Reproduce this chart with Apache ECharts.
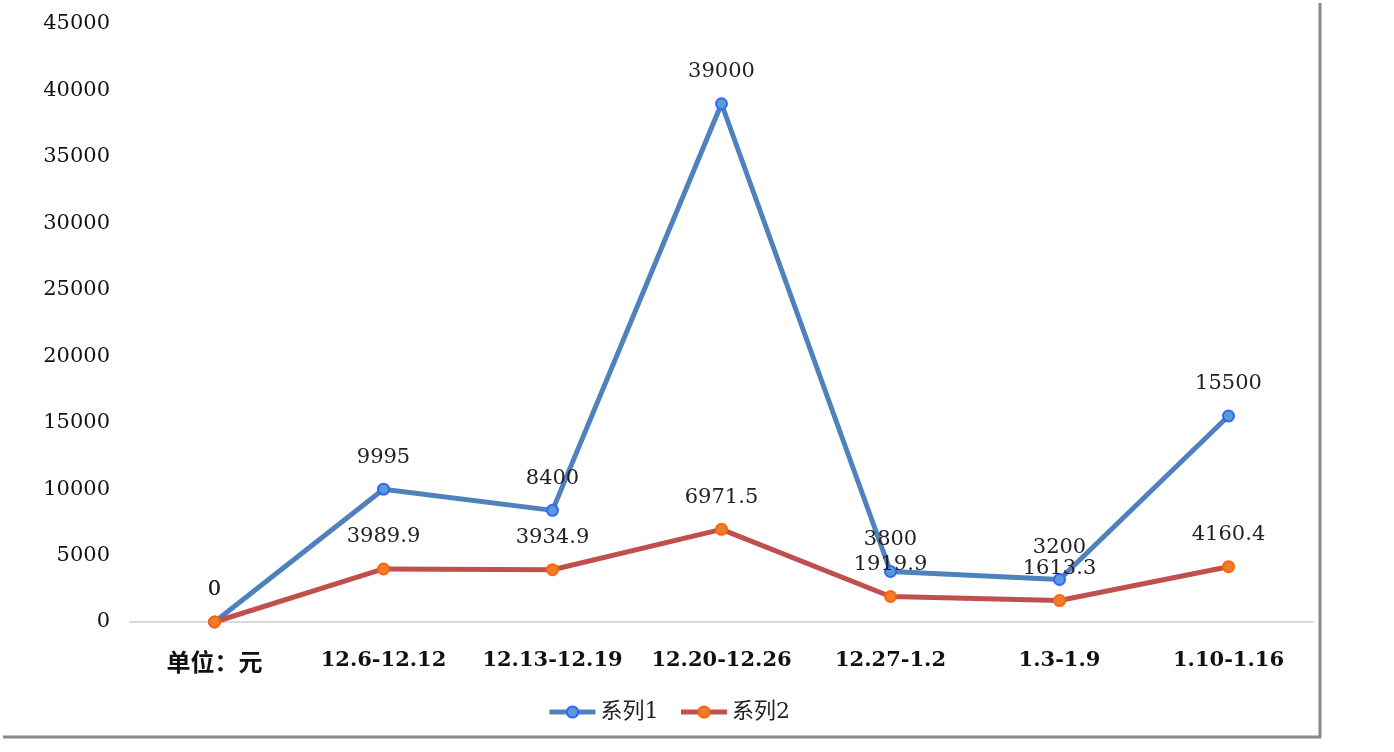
<!DOCTYPE html>
<html>
<head>
<meta charset="utf-8">
<script src="https://cdn.jsdelivr.net/npm/echarts@6/dist/echarts.min.js"></script>
<style>
html,body{margin:0;padding:0;background:#fff;}
#c{width:1394px;height:752px;}
</style>
</head>
<body>
<div id="c"></div>
<script>
const categories = ['单位：元', '12.6-12.12', '12.13-12.19', '12.20-12.26', '12.27-1.2', '1.3-1.9', '1.10-1.16'];
const series1 = [0, 9995, 8400, 39000, 3800, 3200, 15500];
const series2 = [0, 3989.9, 3934.9, 6971.5, 1919.9, 1613.3, 4160.4];
const seriesNames = ['系列1', '系列2'];

const FONT = '"DejaVu Serif", "Noto Sans CJK SC", serif';
const chart = echarts.init(document.getElementById('c'));
chart.setOption({
  backgroundColor: '#ffffff',
  animation: false,
  grid: { left: 130, right: 81, top: 24, bottom: 130, containLabel: false },
  legend: {
    data: seriesNames,
    left: 542, top: 696,
    itemWidth: 46, itemHeight: 14, itemGap: 20,
    lineStyle: { width: 5 },
    textStyle: { fontFamily: FONT, fontSize: 22, color: '#222' }
  },
  xAxis: {
    type: 'category',
    data: categories,
    boundaryGap: true,
    axisLine: { lineStyle: { color: '#d9d9d9', width: 2 } },
    axisTick: { show: false },
    axisLabel: {
      interval: 0, margin: 28, color: '#111', fontFamily: FONT, fontSize: 21, fontWeight: 'bold',
      formatter: (v, i) => i === 0 ? '{cn|' + v + '}' : v,
      rich: { cn: { fontFamily: '"Noto Sans CJK SC", sans-serif', fontSize: 24, fontWeight: 'bold', color: '#111' } }
    }
  },
  yAxis: {
    type: 'value',
    min: 0, max: 45000, interval: 5000,
    axisLine: { show: false },
    axisTick: { show: false },
    splitLine: { show: false },
    axisLabel: { margin: 20, color: '#111', fontFamily: FONT, fontSize: 21,
      formatter: v => String(v) }
  },
  series: [
    {
      name: seriesNames[0], type: 'line', data: series1,
      symbol: 'circle', symbolSize: 11,
      lineStyle: { color: '#4f81bd', width: 5 },
      itemStyle: { color: '#5b9bd5', borderColor: '#3366ff', borderWidth: 2 },
      label: { show: true, position: 'top', distance: 15, color: '#222', fontFamily: FONT, fontSize: 21 },
      z: 3
    },
    {
      name: seriesNames[1], type: 'line', data: series2,
      symbol: 'circle', symbolSize: 11,
      lineStyle: { color: '#c0504d', width: 5 },
      itemStyle: { color: '#ed7d31', borderColor: '#ff6600', borderWidth: 2 },
      label: { show: true, position: 'top', distance: 15, color: '#222', fontFamily: FONT, fontSize: 21 },
      z: 4
    }
  ],
  graphic: [
    { type: 'line', shape: { x1: 1320, y1: 3, x2: 1320, y2: 738 }, style: { stroke: '#888', lineWidth: 3 } },
    { type: 'line', shape: { x1: 3, y1: 737, x2: 1321, y2: 737 }, style: { stroke: '#888', lineWidth: 3 } }
  ]
});
</script>
</body>
</html>
